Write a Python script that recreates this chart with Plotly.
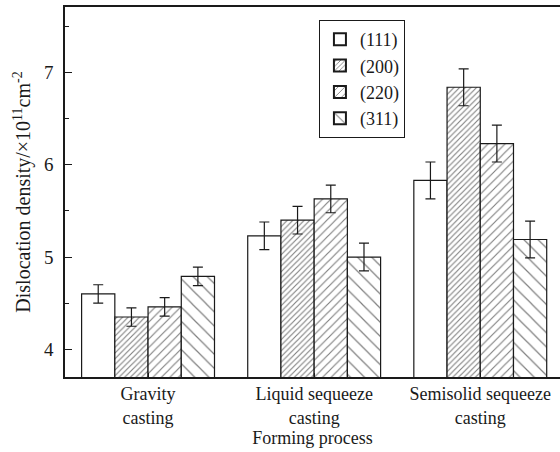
import plotly.graph_objects as go

categories = ["Gravity<br>casting", "Liquid sequeeze<br>casting", "Semisolid sequeeze<br>casting"]
cat_pos = [1, 2, 3]
series_names = ["(111)", "(200)", "(220)", "(311)"]
values = {
    "(111)": [4.60, 5.23, 5.83],
    "(200)": [4.35, 5.40, 6.84],
    "(220)": [4.46, 5.63, 6.23],
    "(311)": [4.79, 5.00, 5.19],
}
errors = {
    "(111)": [0.10, 0.15, 0.20],
    "(200)": [0.10, 0.15, 0.20],
    "(220)": [0.10, 0.15, 0.20],
    "(311)": [0.10, 0.15, 0.20],
}
patterns = {"(111)": "", "(200)": "/", "(220)": "/", "(311)": "\\"}
pattern_sizes = {"(111)": 8, "(200)": 4, "(220)": 6, "(311)": 10}
pattern_solidity = {"(111)": 0.2, "(200)": 0.28, "(220)": 0.19, "(311)": 0.12}
y_ticks = [4, 5, 6, 7]

FONT = "Liberation Serif"
INK = "#1a1a1a"

fig = go.Figure()
for name in series_names:
    fig.add_trace(go.Bar(
        name=name,
        x=cat_pos,
        y=values[name],
        marker=dict(
            color="white",
            line=dict(color=INK, width=1.2),
            pattern=dict(shape=patterns[name], size=pattern_sizes[name],
                         solidity=pattern_solidity[name], fgcolor="black", bgcolor="white"),
        ),
        error_y=dict(type="data", array=errors[name], color=INK,
                     thickness=1.2, width=5),
    ))

fig.update_layout(
    width=560, height=452,
    margin=dict(l=65, r=0, t=7, b=75),
    barmode="group", bargap=0.2, bargroupgap=0,
    plot_bgcolor="white", paper_bgcolor="white",
    font=dict(family=FONT, color=INK),
    legend=dict(
        x=0.513, y=0.965, xanchor="left", yanchor="top",
        bordercolor=INK, borderwidth=1,
        font=dict(family=FONT, size=18, color=INK),
        tracegroupgap=0, itemsizing="constant",
    ),
    showlegend=True,
)
fig.update_xaxes(
    range=[0.5, 3.48],
    tickvals=cat_pos, ticktext=categories,
    ticks="inside", ticklen=4, tickcolor=INK,
    showline=True, linecolor=INK, linewidth=1.5, mirror=True,
    showgrid=False, zeroline=False,
    tickfont=dict(family=FONT, size=18, color=INK),
    title=dict(text="Forming process", font=dict(family=FONT, size=18, color=INK), standoff=3),
)
fig.update_yaxes(
    range=[3.7, 7.71],
    tickvals=y_ticks,
    ticks="inside", ticklen=7, tickcolor=INK,
    minor=dict(dtick=0.5, ticks="inside", ticklen=4, tickcolor=INK, showgrid=False),
    showline=True, linecolor=INK, linewidth=1.5, mirror=False,
    showgrid=False, zeroline=False,
    ticklabelstandoff=6,
    tickfont=dict(family=FONT, size=19, color=INK),
    title=dict(text="Dislocation density/×10<sup>11</sup>cm<sup>-2</sup>",
               font=dict(family=FONT, size=20, color=INK), standoff=8),
)

fig.write_html("out.html")
